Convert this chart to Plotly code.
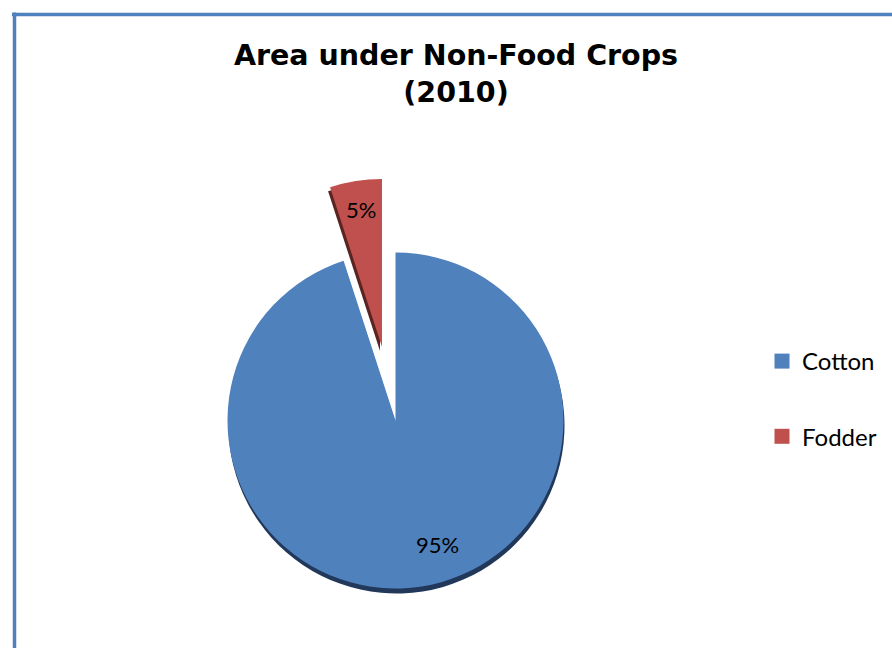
import plotly.graph_objects as go

# ---- data ----
labels = ["Cotton", "Fodder"]
values = [95, 5]
colors = ["#4F81BD", "#C0504D"]
title_text = "Area under Non-Food Crops<br>(2010)"

# ---- layout constants (pixels) ----
W, H = 892, 648
R = 168
main_c = (395.5, 420.5)      # centre of the pie
pull_c = (382.0, 347.0)      # centre of the pulled-out slice
shadow_dy = 5
shadow_col = "#22385A"
transparent = "rgba(0,0,0,0)"


def dom(cx, cy, r=R):
    return dict(x=[(cx - r) / W, (cx + r) / W],
                y=[1 - (cy + r) / H, 1 - (cy - r) / H])


def slice_colors(show_idx, col=None):
    return [(col or colors[i]) if i == show_idx else transparent for i in range(len(labels))]


def pie(center, show_idx, col=None):
    return go.Pie(labels=labels, values=values, sort=False, direction="clockwise",
                  rotation=0, domain=dom(*center), textinfo="none", showlegend=False,
                  marker=dict(colors=slice_colors(show_idx, col), line=dict(width=0)),
                  hoverinfo="label+percent")


fig = go.Figure()
# shadows
fig.add_trace(pie((main_c[0] + 1, main_c[1] + shadow_dy), 0, shadow_col))
fig.add_trace(pie((pull_c[0] - 2, pull_c[1] + 4), 1, "#5A2422"))
# slices
fig.add_trace(pie(main_c, 0))
fig.add_trace(pie(pull_c, 1))

# legend entries
for i, lab in enumerate(labels):
    fig.add_trace(go.Scatter(x=[None], y=[None], mode="markers", name=lab,
                             legendgroup=lab,
                             marker=dict(symbol="square", size=15, color=colors[i])))

total = sum(values)
pct = [f"{round(v / total * 100)}%" for v in values]
label_pos = [(437, 544), (361, 209)]
annotations = []
for i in range(len(labels)):
    annotations.append(dict(x=label_pos[i][0] / W, y=1 - label_pos[i][1] / H,
                            xref="paper", yref="paper", xanchor="center", yanchor="middle",
                            text=pct[i], showarrow=False,
                            font=dict(family="Lato", size=22, color="black")))

fig.update_layout(
    width=W, height=H,
    margin=dict(l=0, r=0, t=0, b=0),
    paper_bgcolor="white", plot_bgcolor="white",
    title=dict(text=title_text, x=456 / W, xanchor="center", y=1 - 65 / H, yanchor="top",
               font=dict(family="DejaVu Sans", size=28.5, color="black", weight="bold")),
    xaxis=dict(visible=False), yaxis=dict(visible=False),
    legend=dict(x=762 / W, y=1 - 339 / H, xanchor="left", yanchor="top",
                font=dict(family="Lato", size=24, color="black"),
                traceorder="grouped", tracegroupgap=41, bgcolor=transparent),
    annotations=annotations,
    shapes=[
        dict(type="line", xref="paper", yref="paper", x0=12 / W, x1=1, y0=1 - 14.5 / H, y1=1 - 14.5 / H,
             line=dict(color="#4F81BD", width=3.5)),
        dict(type="line", xref="paper", yref="paper", x0=14.5 / W, x1=14.5 / W, y0=0, y1=1 - 12.5 / H,
             line=dict(color="#4F81BD", width=3.5)),
    ],
)

fig.write_html("out.html")
